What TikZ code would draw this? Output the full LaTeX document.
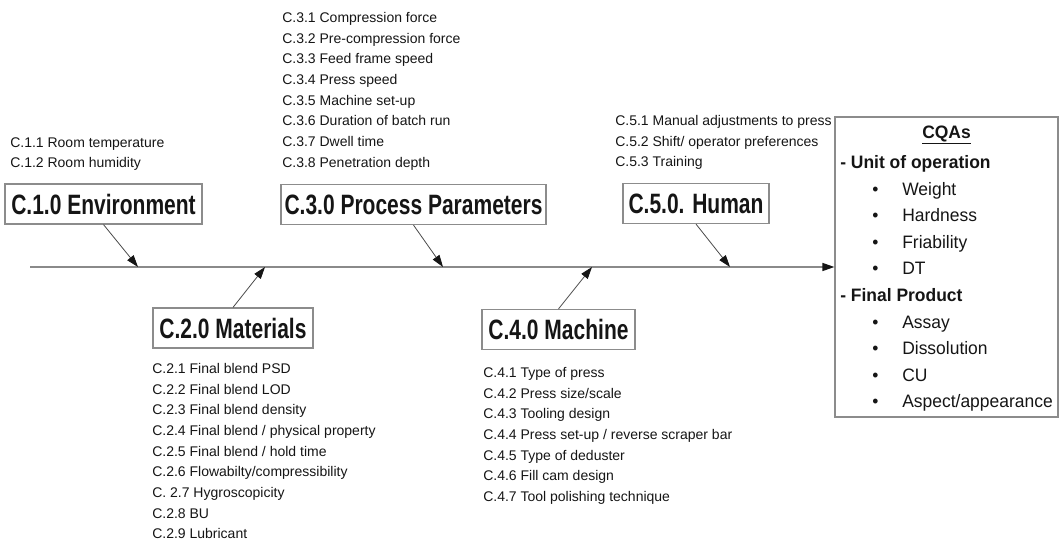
\documentclass[tikz,border=0pt]{standalone}
\usepackage{fontspec}
\setmainfont{Liberation Sans}
\newfontfamily\headfont[FakeStretch=0.75]{Liberation Sans}
\newfontfamily\cqafont[FakeStretch=0.97]{Liberation Sans}
\usepackage{xcolor}
\usepackage{tikz}
\usetikzlibrary{positioning,arrows.meta}
\definecolor{ink}{HTML}{151515}
\definecolor{boxgray}{HTML}{8C8C8C}
\definecolor{spinegray}{HTML}{8A8A8A}
\definecolor{bonegray}{HTML}{4A4A4A}
\tikzset{
headbox/.style={draw=boxgray, line width=0.9pt, text=ink, inner sep=0pt, minimum height=30pt,
  font=\headfont\bfseries\fontsize{21}{24}\selectfont},
causes/.style={anchor=north west, inner sep=0pt, align=left, text=ink, font=\fontsize{10.5}{15.5}\selectfont},
bone/.style={draw=bonegray, line width=0.6pt, -{Triangle[length=9pt,width=6pt,color=ink]}},
spine/.style={draw=spinegray, line width=1.1pt, -{Triangle[length=9pt,width=6pt,color=ink]}}
}
\newcommand{\cqaitem}[1]{\hspace*{24pt}\makebox[22.5pt][l]{\textbullet}#1}

\begin{document}
\begin{tikzpicture}[x=0.75pt, y=-0.75pt]
\useasboundingbox (0,0) rectangle (1059,545);

% cause boxes
\node[headbox, minimum width=147.75pt] (env)  at (103.5,204) {C.1.0 Environment};
\node[headbox, minimum width=198.75pt] (proc) at (413.5,204.5) {C.3.0 Process Parameters};
\node[headbox, minimum width=109.5pt]  (hum)  at (696,203.5) {C.5.0. Human};
\node[headbox, minimum width=120pt]    (mat)  at (233,328) {C.2.0 Materials};
\node[headbox, minimum width=114.75pt] (mach) at (558.5,329.5) {C.4.0 Machine};

% cause lists
\node[causes] (envlist) at (10,137) {C.1.1 Room temperature\\C.1.2 Room humidity};
\node[causes] (proclist) at (282,12) {C.3.1 Compression force\\C.3.2 Pre-compression force\\
  C.3.3 Feed frame speed\\C.3.4 Press speed\\C.3.5 Machine set-up\\
  C.3.6 Duration of batch run\\C.3.7 Dwell time\\C.3.8 Penetration depth};
\node[causes] (humlist) at (615,115) {C.5.1 Manual adjustments to press\\
  C.5.2 Shift/ operator preferences\\C.5.3 Training};
\node[causes] (matlist) at (152,363) {C.2.1 Final blend PSD\\C.2.2 Final blend LOD\\
  C.2.3 Final blend density\\C.2.4 Final blend / physical property\\
  C.2.5 Final blend / hold time\\C.2.6 Flowabilty/compressibility\\
  C. 2.7 Hygroscopicity\\C.2.8 BU\\C.2.9 Lubricant};
\node[causes] (machlist) at (483,367) {C.4.1 Type of press\\C.4.2 Press size/scale\\
  C.4.3 Tooling design\\C.4.4 Press set-up / reverse scraper bar\\
  C.4.5 Type of deduster\\C.4.6 Fill cam design\\C.4.7 Tool polishing technique};

% effect box
\node[draw=boxgray, line width=0.9pt, minimum width=167.25pt, minimum height=225pt, inner sep=0pt] (cqa) at (946.5,267) {};
\node[text=ink, inner sep=0pt, font=\cqafont\bfseries\fontsize{13.5}{16}\selectfont] (cqahead) at (946.5,135) {\underline{CQAs}};
\node[causes, font=\cqafont\fontsize{13.5}{19.9}\selectfont] (cqalist) at (840,155.5) {%
  \textbf{- Unit of operation}\\\cqaitem{Weight}\\\cqaitem{Hardness}\\\cqaitem{Friability}\\\cqaitem{DT}\\
  \textbf{- Final Product}\\\cqaitem{Assay}\\\cqaitem{Dissolution}\\\cqaitem{CU}\\\cqaitem{Aspect/appearance}};

% spine and bones
\coordinate (tail) at (30,267);
\coordinate (j1) at (138,267);
\coordinate (j2) at (265,267);
\coordinate (j3) at (443,267);
\coordinate (j4) at (592,267);
\coordinate (j5) at (730,267);
\draw[spine] (tail) -- (cqa.west);
\draw[bone] (env.south) -- (j1);
\draw[bone] (mat.north) -- (j2);
\draw[bone] (proc.south) -- (j3);
\draw[bone] (mach.north) -- (j4);
\draw[bone] (hum.south) -- (j5);
\end{tikzpicture}
\end{document}
